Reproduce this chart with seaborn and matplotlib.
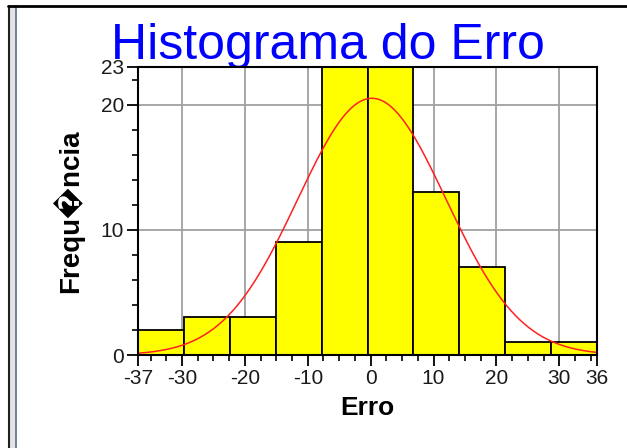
import numpy as np
import pandas as pd
import matplotlib.pyplot as plt
import seaborn as sns
from matplotlib.lines import Line2D
from matplotlib.patches import Rectangle

# Data
x_min, x_max = -37, 36
n_bins = 10
counts = [2, 3, 3, 9, 25, 24, 13, 7, 1, 1]   # the two middle bars run off the top (>23)
x_ticks = [-37, -30, -20, -10, 0, 10, 20, 30, 36]
y_ticks = [0, 10, 20, 23]

# fitted normal curve drawn over the histogram
curve_mean = 0.2
curve_sd = 11.8
curve_peak = 20.5


def main():
    sns.set_theme(style="white")
    plt.rcParams['font.family'] = ['Liberation Sans', 'DejaVu Sans']
    plt.rcParams['axes.unicode_minus'] = False

    fig = plt.figure(figsize=(6.27, 4.48), dpi=100)
    ax = fig.add_axes([138 / 627, 1 - 355 / 448, (597 - 138) / 627, (355 - 67) / 448])
    ax.set_facecolor('white')

    edges = np.linspace(x_min, x_max, n_bins + 1)
    df = pd.DataFrame({'erro': (edges[:-1] + edges[1:]) / 2, 'freq': counts})
    sns.histplot(data=df, x='erro', weights='freq', bins=list(edges), color='#FFFF00',
                 alpha=1, edgecolor='black', linewidth=1.3, ax=ax)

    xs = np.linspace(x_min, x_max, 400)
    ys = curve_peak * np.exp(-(xs - curve_mean) ** 2 / (2 * curve_sd ** 2))
    sns.lineplot(x=xs, y=ys, color='#FF2020', linewidth=1.1, ax=ax)

    ax.set_xlim(x_min, x_max)
    ax.set_ylim(0, 23)
    ax.set_xticks(x_ticks)
    ax.set_yticks(y_ticks)
    ax.set_xticks(np.arange(-35, 36, 2.5), minor=True)
    ax.set_yticks(np.arange(0, 23, 2), minor=True)
    ax.set_axisbelow(True)
    ax.grid(True, which='major', color='#a0a0a0', linewidth=1.3)

    for s in ax.spines.values():
        s.set_color('black')
        s.set_linewidth(1.5)

    ax.tick_params(which='major', direction='out', length=8, width=1.3, color='black',
                   labelsize=15, labelcolor='#1a1a1a', pad=2, bottom=True, left=True)
    ax.tick_params(which='minor', direction='out', length=4, width=1.2, color='black',
                   bottom=True, left=True)

    ax.set_xlabel('Erro', fontsize=19, fontweight='bold', va='baseline', color='black')
    ax.xaxis.set_label_coords(0.5, (355 - 415) / 288)
    ax.set_ylabel('Frequ\ufffdncia', fontsize=20, fontweight='bold', va='center', color='black')
    ax.yaxis.set_label_coords((68 - 138) / 459, 0.5)

    # title sits behind the plot so the descender is hidden
    fig.text(327.5 / 627, 1 - 59 / 448, 'Histograma do Erro', fontsize=36,
             color='#0000FF', ha='center', va='baseline', zorder=-1)

    # window frame
    fig.add_artist(Rectangle((10 / 627, 0), 5 / 627, 1 - 6 / 448, transform=fig.transFigure,
                             facecolor='#e4e4e4', edgecolor='none'))
    fig.add_artist(Line2D([9 / 627, 9 / 627], [0, 1 - 6 / 448], transform=fig.transFigure,
                          color='#202020', linewidth=1.5))
    fig.add_artist(Line2D([16 / 627, 16 / 627], [0, 1 - 6 / 448], transform=fig.transFigure,
                          color='#5a6a88', linewidth=1.2))
    fig.add_artist(Line2D([8 / 627, 1], [1 - 6 / 448, 1 - 6 / 448], transform=fig.transFigure,
                          color='black', linewidth=2))

    fig.savefig('out.png', dpi=100)


if __name__ == "__main__":
    main()
